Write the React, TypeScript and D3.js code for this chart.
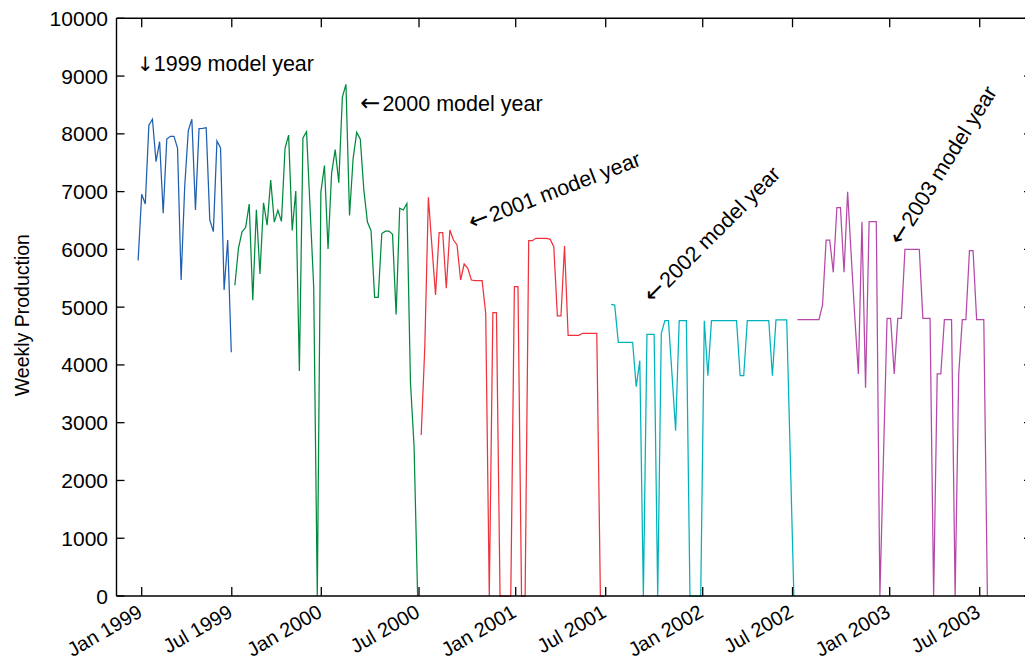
import React from "react";
import * as d3 from "d3";

// ---- data (weekly production, weeks counted from Jan 1999) ----
const modelYears = ["1999", "2000", "2001", "2002", "2003"];
const seriesStartWeek = [-1, 26, 78, 131, 183];
const seriesColors = ["#1f5fb0", "#008a3e", "#f0323c", "#00b2bb", "#b548a9"];

const prod1999 = [5807, 6953, 6786, 8148, 8252, 7518, 7864, 6624, 7911, 7957, 7957, 7755, 5470, 7085, 8055, 8252, 6682, 8090, 8096, 8107, 6509, 6307, 7876, 7755, 5297, 6163, 4218];
const prod2000 = [5379, 6018, 6305, 6377, 6783, 5121, 6687, 5575, 6807, 6419, 7201, 6472, 6676, 6484, 7751, 7978, 6329, 7011, 3896, 7931, 8038, 6700, 5349, 0, 6992, 7452, 6006, 7321, 7727, 7154, 8636, 8857, 6586, 7572, 8026, 7907, 7022, 6472, 6323, 5169, 5169, 6275, 6316, 6316, 6263, 4871, 6711, 6682, 6794, 3700, 2600, 0];
const prod2001 = [2787, 4300, 6901, 6045, 5210, 6289, 6289, 5326, 6335, 6162, 6076, 5470, 5747, 5672, 5470, 5458, 5458, 5458, 4893, 0, 4904, 4904, 0, 0, 0, 0, 5354, 5354, 0, 0, 6150, 6150, 6191, 6191, 6191, 6191, 6173, 6046, 4847, 4847, 6058, 4512, 4512, 4512, 4512, 4547, 4547, 4547, 4547, 4547, 0, 0];
const prod2002 = [5049, 5037, 4391, 4391, 4391, 4391, 4391, 3623, 4073, 0, 4530, 4530, 4530, 0, 4547, 4766, 4766, 3823, 2862, 4766, 4766, 4766, 0, 0, 0, 0, 4766, 3813, 4766, 4766, 4766, 4766, 4766, 4766, 4766, 4766, 3813, 3813, 4766, 4766, 4766, 4766, 4766, 4766, 4766, 3813, 4778, 4778, 4778, 4778, 2400, 0];
const prod2003 = [4783, 4783, 4783, 4783, 4783, 4783, 4783, 5037, 6162, 6162, 5603, 6722, 6722, 5603, 6999, 5891, 4829, 3843, 6480, 3606, 6480, 6480, 6480, 0, 2400, 4806, 4806, 3843, 4806, 4806, 6001, 6001, 6001, 6001, 6001, 4806, 4806, 4806, 0, 3843, 3843, 4783, 4783, 4783, 0, 3843, 4783, 4783, 5978, 5978, 4783, 4783, 4783, 0];
const seriesValues = [prod1999, prod2000, prod2001, prod2002, prod2003];

const yTicks = [0, 1000, 2000, 3000, 4000, 5000, 6000, 7000, 8000, 9000, 10000];
const xTickLabels = ["Jan 1999", "Jul 1999", "Jan 2000", "Jul 2000", "Jan 2001", "Jul 2001", "Jan 2002", "Jul 2002", "Jan 2003", "Jul 2003"];
const xTickWeeks = [0, 25.14, 50.12, 77.39, 104.37, 129.49, 156.56, 181.62, 208.74, 233.86];

// annotation anchors (week, production) and rotation
const annoArrow = ["↓", "←", "←", "←", "←"];
const annoText = ["1999 model year", "2000 model year", "2001 model year", "2002 model year", "2003 model year"];
const annoWeek = [-1.3, 61.0, 92.2, 142.6, 211.9];
const annoValue = [9090, 8400, 6330, 5050, 6050];
const annoAngle = [0, 0, -21, -45, -58];

const FONT = "'Liberation Sans', Arial, Helvetica, sans-serif";
const ARROW_FONT = "'DejaVu Sans', sans-serif";

export default function App() {
  const left = 116.5, right = 1032, top = 18.3, bottom = 596;
  const x = d3.scaleLinear().domain([0, 208.74]).range([141.7, 889.7]);
  const y = d3.scaleLinear().domain([0, 10000]).range([bottom, top]);

  const line = d3
    .line<{ w: number; v: number }>()
    .x((d) => x(d.w))
    .y((d) => y(d.v));

  return (
    <svg
      width={1025}
      height={661}
      style={{ position: "absolute", left: 0, top: 0, background: "#fff" }}
      fontFamily={FONT}
    >
      <rect x={0} y={0} width={1025} height={661} fill="#fff" />
      {seriesValues.map((vals, si) => (
        <path
          key={modelYears[si]}
          d={line(vals.map((v, i) => ({ w: seriesStartWeek[si] + i, v }))) || ""}
          fill="none"
          stroke={seriesColors[si]}
          strokeWidth={1.25}
        />
      ))}
      {/* frame */}
      <g stroke="#000" strokeWidth={1.4} fill="none">
        <line x1={left} x2={left} y1={top} y2={bottom} />
        <line x1={left} x2={right} y1={bottom} y2={bottom} />
        <line x1={left} x2={right} y1={top} y2={top} />
        <line x1={right} x2={right} y1={top} y2={bottom} />
      </g>
      {/* y ticks */}
      {yTicks.map((t) => (
        <g key={"y" + t}>
          <line x1={left} x2={left + 8} y1={y(t)} y2={y(t)} stroke="#000" strokeWidth={1.3} />
          <line x1={right} x2={right - 8} y1={y(t)} y2={y(t)} stroke="#000" strokeWidth={1.3} />
          <text x={108} y={y(t)} dy="0.36em" textAnchor="end" fontSize={21} fill="#000">
            {t}
          </text>
        </g>
      ))}
      {/* x ticks */}
      {xTickWeeks.map((w, i) => (
        <g key={"x" + i}>
          <line x1={x(w)} x2={x(w)} y1={bottom} y2={bottom - 9} stroke="#000" strokeWidth={1.3} />
          <line x1={x(w)} x2={x(w)} y1={top} y2={top + 9} stroke="#000" strokeWidth={1.3} />
          <text
            transform={`translate(${x(w) + 2},${bottom + 20}) rotate(-30)`}
            textAnchor="end"
            fontSize={20}
            fill="#000"
          >
            {xTickLabels[i]}
          </text>
        </g>
      ))}
      {/* y label */}
      <text
        transform={`translate(29,${(top + bottom) / 2 + 8}) rotate(-90)`}
        textAnchor="middle"
        fontSize={19.5}
        fill="#000"
      >
        Weekly Production
      </text>
      {/* annotations */}
      {annoText.map((t, i) => (
        <text
          key={"a" + i}
          transform={`translate(${x(annoWeek[i])},${y(annoValue[i])}) rotate(${annoAngle[i]})`}
          fontSize={21.5}
          fill="#000"
        >
          <tspan fontFamily={ARROW_FONT} fontSize={i === 0 ? 20 : 24}>{annoArrow[i]}</tspan>
          <tspan dx={i === 0 ? 0 : 2}>{t}</tspan>
        </text>
      ))}
    </svg>
  );
}
